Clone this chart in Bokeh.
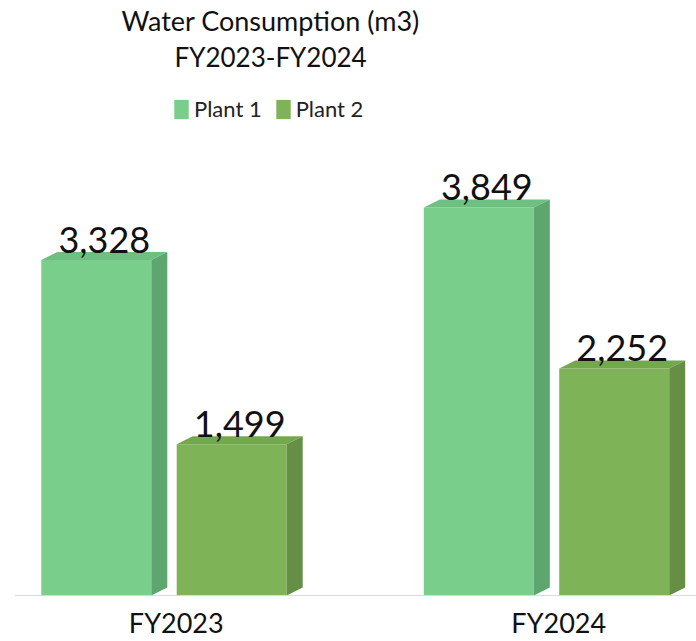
from bokeh.plotting import figure
from bokeh.models import ColumnDataSource, Range1d, Title, Legend, LegendItem, Span
from bokeh.embed import file_html
from bokeh.resources import INLINE
from bokeh.core.properties import value

# ---- data ----
categories = ["FY2023", "FY2024"]
series_names = ["Plant 1", "Plant 2"]
plant1 = [3328, 3849]
plant2 = [1499, 2252]

# ---- styling / layout ----
FONT = "Lato"
front_colors = ["#78CE8A", "#7EB357"]
top_colors = ["#6DC080", "#74A84F"]
side_colors = ["#5EA66F", "#658F45"]

PX_PER_CAT = 382.5          # pixels per category unit on x
Y_PER_PX = 1 / 0.10075      # data units per pixel on y
bar_w = 110 / PX_PER_CAT
offsets = [-0.177, 0.177]
depth_dx = 16 / PX_PER_CAT
depth_dy = 8 * Y_PER_PX

W, H = 696, 641
LEFT = 14
FRAME_W = W - LEFT

x_start = (LEFT - 163.5) / PX_PER_CAT
x_end = x_start + FRAME_W / PX_PER_CAT

p = figure(width=W, height=H, output_backend="svg", toolbar_location=None,
           x_range=Range1d(x_start, x_end),
           y_range=Range1d(-46 * Y_PER_PX, 522.6 * Y_PER_PX),
           x_axis_location=None, y_axis_location=None,
           min_border_left=LEFT, min_border_right=0, min_border_top=5, min_border_bottom=0,
           outline_line_color=None)
p.xgrid.grid_line_color = None
p.ygrid.grid_line_color = None

p.add_layout(Title(text="FY2023-FY2024", align="left", offset=160, text_font=FONT,
                   text_font_size="26px", text_font_style="normal",
                   text_color="#111111", standoff=0), "above")
p.add_layout(Title(text="Water Consumption (m3)", align="left", offset=107, text_font=FONT,
                   text_font_size="27px", text_font_style="normal",
                   text_color="#111111", standoff=3), "above")

# baseline (category axis line)
p.add_layout(Span(location=0, dimension="width", line_color="#D9D9D9", line_width=1))

legend_items = []
for s, vals in enumerate([plant1, plant2]):
    xc = [i + offsets[s] for i in range(len(categories))]
    L = [x - bar_w / 2 for x in xc]
    R = [x + bar_w / 2 for x in xc]
    # front face
    front = p.vbar(x=xc, width=bar_w, top=vals, bottom=0,
                   fill_color=front_colors[s], line_color=None)
    legend_items.append(LegendItem(label=series_names[s], renderers=[front]))
    # top face
    top_xs = [[l, r, r + depth_dx, l + depth_dx] for l, r in zip(L, R)]
    top_ys = [[v, v, v + depth_dy, v + depth_dy] for v in vals]
    p.patches(xs=top_xs, ys=top_ys, fill_color=top_colors[s], line_color=None)
    # side face
    side_xs = [[r, r + depth_dx, r + depth_dx, r] for r in R]
    side_ys = [[0, depth_dy, v + depth_dy, v] for v in vals]
    p.patches(xs=side_xs, ys=side_ys, fill_color=side_colors[s], line_color=None)
    # value labels
    lab = ColumnDataSource(dict(x=[x + depth_dx / 2 for x in xc],
                                y=[v + depth_dy for v in vals],
                                t=[f"{v:,}" for v in vals]))
    p.text(x="x", y="y", text="t", source=lab, text_align="center",
           text_baseline="alphabetic", y_offset=-12,
           text_font=value(FONT), text_font_size="36px", text_color="#111111")

# category labels under the baseline
cat_src = ColumnDataSource(dict(x=[i + 0.032 for i in range(len(categories))],
                                y=[0] * len(categories), t=categories))
p.text(x="x", y="y", text="t", source=cat_src, text_align="center",
       text_baseline="alphabetic", y_offset=27,
       text_font=value(FONT), text_font_size="27px", text_color="#111111")

legend = Legend(items=legend_items, orientation="horizontal", location=(158, 519),
                glyph_width=18, glyph_height=24, label_text_font=FONT,
                label_text_font_size="22px", label_text_color="#222222",
                label_standoff=4, spacing=12, background_fill_alpha=0,
                border_line_color=None, margin=0, padding=0)
p.add_layout(legend, "center")

open("out.html", "w").write(file_html(p, INLINE))
